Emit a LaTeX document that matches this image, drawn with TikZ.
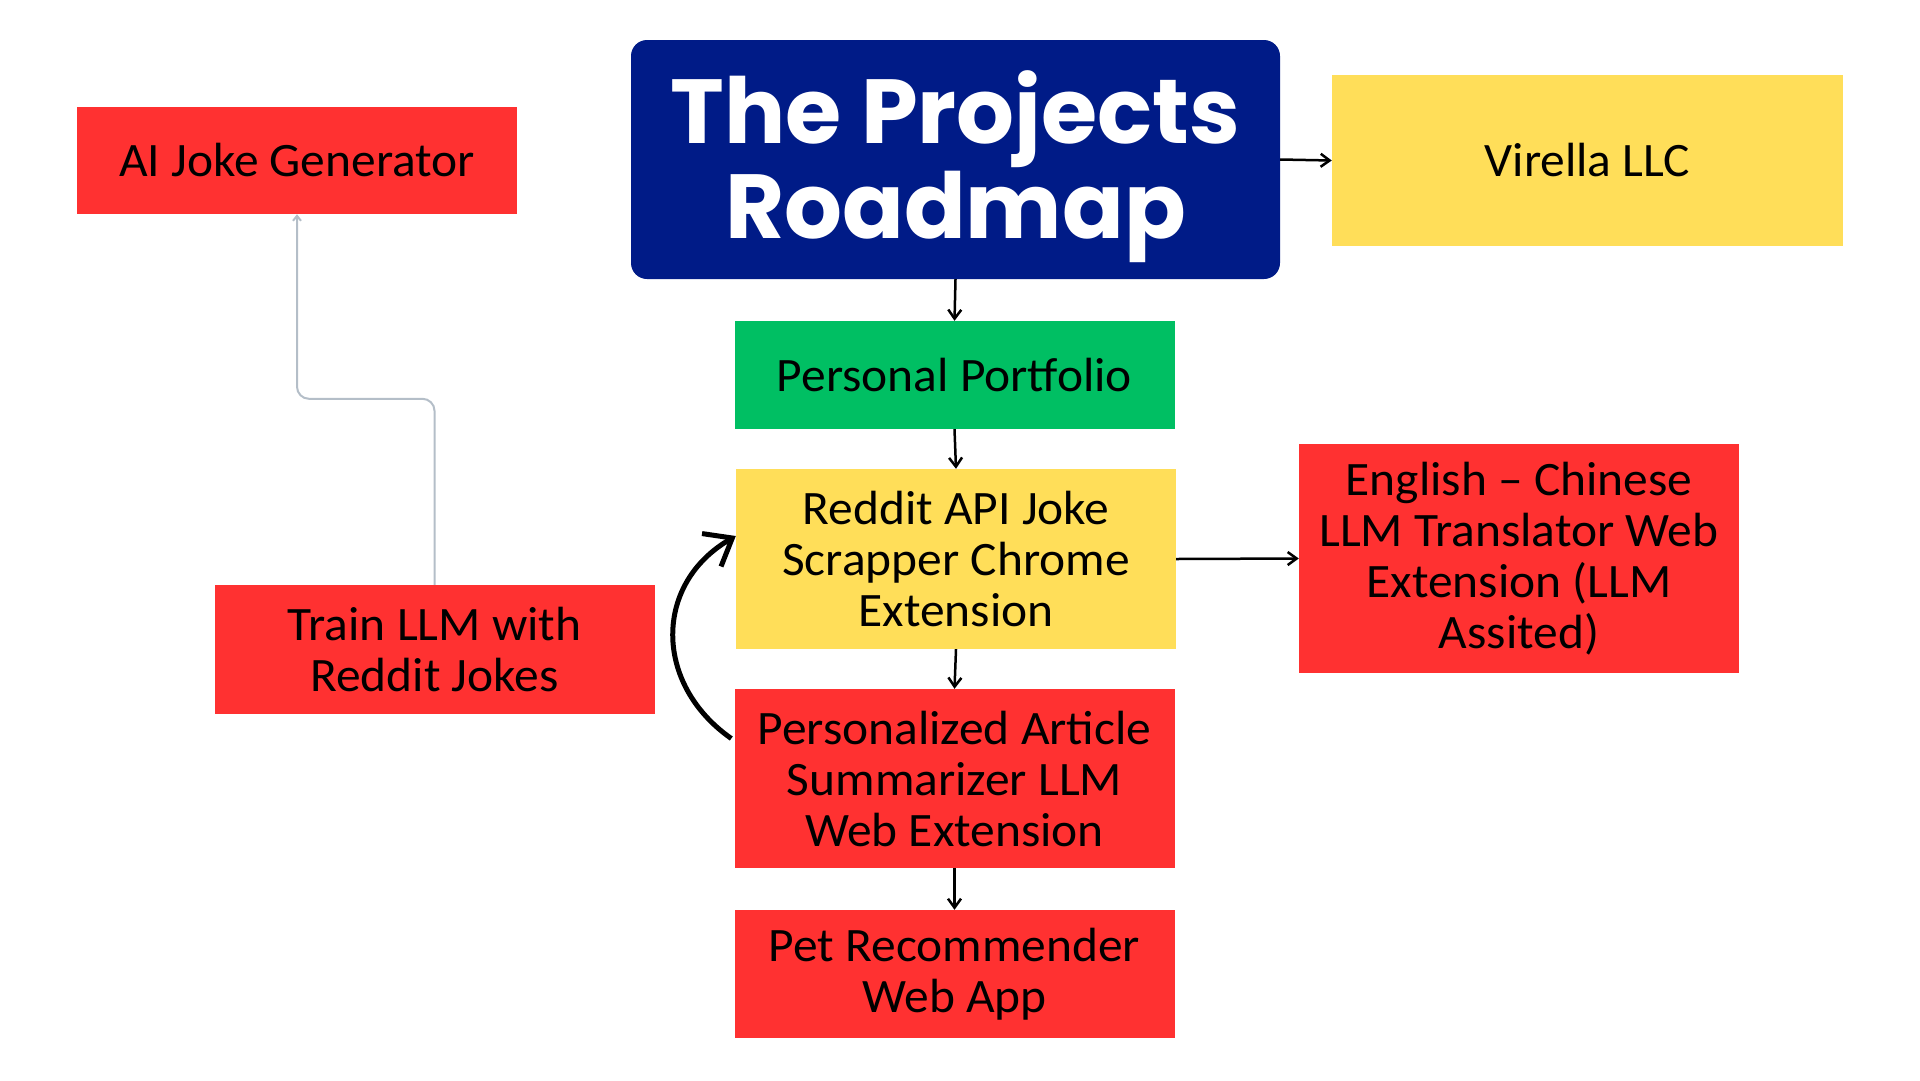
\documentclass[tikz,border=0pt]{standalone}
\usepackage{fontspec}
\setmainfont{Carlito}[FakeStretch=1.03]
\newfontfamily\titlefont{Poppins}
\usetikzlibrary{arrows.meta}

\definecolor{boxred}{HTML}{FF3131}
\definecolor{boxyellow}{HTML}{FFDE59}
\definecolor{boxgreen}{HTML}{00BF63}
\definecolor{boxnavy}{HTML}{001B87}
\definecolor{linkgray}{HTML}{B4BEC8}

\begin{document}
\begin{tikzpicture}[x=1pt, y=-1pt,
    box/.style = {rectangle, inner sep=0pt, align=center, minimum width=440pt,
                  font=\fontsize{48}{51}\selectfont},
    link/.style = {-{Straight Barb[length=9pt,width=13pt,line width=2.5pt]}, line width=2.5pt},
    loop link/.style = {-{Straight Barb[length=24pt,width=38pt,line width=5pt]}, line width=5pt},
    side link/.style = {-{Straight Barb[length=5pt,width=8pt]}, line width=2pt, draw=linkgray, rounded corners=12pt}]
    \useasboundingbox (0,0) rectangle (1920,1080);
    \node (title) [rectangle, rounded corners=16pt, fill=boxnavy,
        minimum width=649pt, minimum height=239pt] at (955.5,159.5) {};
    \node (title text) [text=white, align=center, font=\titlefont\bfseries\fontsize{91}{95}\selectfont]
        at ([yshift=-7pt]title.center) {The Projects\\Roadmap};
    \node (virella) [box, fill=boxyellow, minimum width=511pt, minimum height=171pt] at (1587.5,160.5) {Virella LLC};
    \node (joke) [box, fill=boxred, minimum height=107pt] at (297,160.5) {AI Joke Generator};
    \node (portfolio) [box, fill=boxgreen, minimum height=108pt] at (954.5,375) {Personal Portfolio};
    \node (reddit) [box, fill=boxyellow, minimum height=180pt] at (956,559) {Reddit API Joke\\Scrapper Chrome\\Extension};
    \node (translator) [box, fill=boxred, minimum height=229pt] at (1519,558.5) {English -- Chinese\\LLM Translator Web\\Extension (LLM\\Assited)};
    \node (train) [box, fill=boxred, minimum height=129pt] at (434.5,649.5) {Train LLM with\\Reddit Jokes};
    \node (summarizer) [box, fill=boxred, minimum height=179pt] at (954.5,778.5) {Personalized Article\\Summarizer LLM\\Web Extension};
    \node (pet) [box, fill=boxred, minimum height=128pt] at (954.5,974) {Pet Recommender\\Web App};

    \draw[link] (title.east) -- (virella.west);
    \draw[link] (title.south) -- (portfolio.north);
    \draw[link] (portfolio.south) -- (reddit.north);
    \draw[link] (reddit.east) -- (translator.west);
    \draw[link] (reddit.south) -- (summarizer.north);
    \draw[link] (summarizer.south) -- (pet.north);
    \draw[loop link] ([xshift=-3pt,yshift=40pt]summarizer.west) to[out=145, in=210, looseness=1.2] ([yshift=23pt]reddit.west);
    \draw[side link] (train.north) -- ++(0,-186) -| (joke.south);
\end{tikzpicture}
\end{document}
